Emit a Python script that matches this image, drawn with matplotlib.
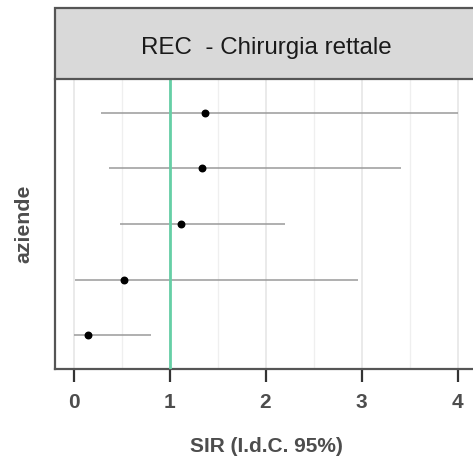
import matplotlib.pyplot as plt
from matplotlib.patches import Rectangle

plt.rcParams['font.family'] = ['Liberation Sans', 'DejaVu Sans']

# forest plot data, top row first
aziende = ['A1', 'A2', 'A3', 'A4', 'A5']
sir = [1.37, 1.335, 1.12, 0.53, 0.15]
lo = [0.29, 0.365, 0.485, 0.02, 0.005]
hi = [4.0, 3.41, 2.20, 2.96, 0.81]
xticks = [0, 1, 2, 3, 4]
title = 'REC  - Chirurgia rettale'

W, H = 473, 459
fig = plt.figure(figsize=(W / 100, H / 100), dpi=100)

left, right = 55.3 / W, 476.7 / W
bottom, top = (H - 368.6) / H, (H - 79.2) / H
ax = fig.add_axes([left, bottom, right - left, top - bottom])

ypos = list(range(len(aziende), 0, -1))

ax.set_xlim(-0.19, 4.2)
ax.set_ylim(0.4, len(aziende) + 0.6)

ax.set_xticks(xticks)
ax.set_xticks([0.5, 1.5, 2.5, 3.5], minor=True)
ax.grid(True, axis='x', which='major', color='#e6e6e6', lw=1.2)
ax.grid(True, axis='x', which='minor', color='#efefef', lw=0.9)
ax.set_axisbelow(True)

ax.hlines(ypos, lo, hi, color='#9a9a9a', lw=1.1, zorder=2)
ax.axvline(1, color='#66cfa6', lw=2, zorder=3)
ax.scatter(sir, ypos, s=22, color='black', zorder=4)

ax.set_yticks([])
ax.tick_params(axis='x', which='major', length=9, width=1.6, color='#333333',
               labelsize=15, labelcolor='#4d4d4d', pad=8.5)
ax.tick_params(axis='x', which='minor', length=0)
for lab in ax.get_xticklabels():
    lab.set_fontweight('bold')

for side in ['left', 'bottom']:
    ax.spines[side].set_color('#555555')
    ax.spines[side].set_linewidth(1.6)
for side in ['top', 'right']:
    ax.spines[side].set_visible(False)

ax.set_xlabel('SIR (I.d.C. 95%)', fontsize=15, fontweight='bold',
              color='#4d4d4d', labelpad=18)
ax.set_ylabel('aziende', fontsize=15.3, fontweight='bold', color='#4d4d4d',
              labelpad=16)

# facet strip
sy0 = (H - 79.2) / H
sy1 = (H - 8.3) / H
strip = Rectangle((left, sy0), right - left, sy1 - sy0, transform=fig.transFigure,
                  facecolor='#d9d9d9', edgecolor='#555555', lw=1.6)
fig.patches.append(strip)
fig.text((left + right) / 2, (H - 54) / H, title, ha='center', va='baseline',
         fontsize=17.4, color='#1a1a1a')

fig.savefig('out.png', dpi=100)
